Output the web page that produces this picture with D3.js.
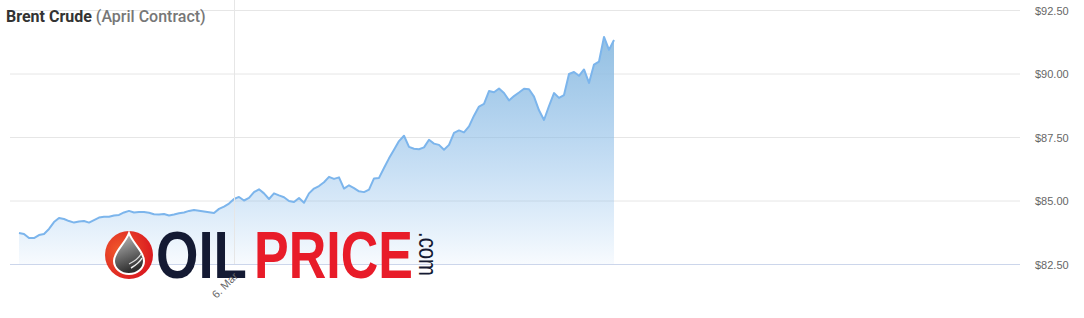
<!DOCTYPE html>
<html>
<head>
<meta charset="utf-8">
<script src="https://cdn.jsdelivr.net/npm/d3@7"></script>
<style>
  html, body { margin: 0; padding: 0; background: #fff; }
  svg { display: block; }
</style>
</head>
<body>
<svg id="chart" width="1084" height="318"></svg>
<script>
// ---------------- DATA ----------------
const titleMain = "Brent Crude";
const titleSub = "(April Contract)";
const seriesStart = "2024-03-04T05:00";   // first quote
const stepHours = 1;                      // spacing of quotes
const prices = [
  83.72, 83.68, 83.52, 83.52, 83.64, 83.68, 83.88, 84.15, 84.31, 84.27,
  84.19, 84.13, 84.17, 84.19, 84.13, 84.23, 84.33, 84.36, 84.36, 84.41,
  84.43, 84.53, 84.59, 84.53, 84.55, 84.55, 84.52, 84.46, 84.45, 84.47,
  84.41, 84.45, 84.50, 84.53, 84.59, 84.63, 84.60, 84.57, 84.54, 84.51,
  84.67, 84.76, 84.88, 85.06, 85.14, 85.00, 85.10, 85.33, 85.44, 85.28,
  85.06, 85.28, 85.20, 85.13, 84.98, 84.94, 85.10, 84.91, 85.28, 85.47,
  85.57, 85.72, 85.93, 85.85, 85.91, 85.47, 85.60, 85.49, 85.36, 85.33,
  85.43, 85.87, 85.89, 86.28, 86.66, 87.00, 87.34, 87.55, 87.11, 87.04,
  87.02, 87.09, 87.39, 87.24, 87.19, 87.00, 87.19, 87.66, 87.76, 87.68,
  87.92, 88.34, 88.70, 88.80, 89.31, 89.26, 89.41, 89.23, 88.94, 89.11,
  89.25, 89.40, 89.38, 89.09, 88.55, 88.17, 88.72, 89.23, 89.04, 89.15,
  89.98, 90.06, 89.91, 90.16, 89.63, 90.35, 90.47, 91.44, 90.93, 91.32
];
const xDomain = ["2024-03-04T03:12", "2024-03-12T13:12"];
const xTickDates = ["2024-03-06T00:00"];
const yDomain = [82.5, 92.5];
const yTicks = [82.5, 85, 87.5, 90, 92.5];
const logoWords = ["OIL", "PRICE"];
const logoSuffix = ".com";

// ---------------- LAYOUT ----------------
const plot = { left: 10, right: 1020, top: 10, bottom: 264, gridTop: 0 };
const parse = d3.timeParse("%Y-%m-%dT%H:%M");
const t0 = parse(seriesStart);
const data = prices.map((p, i) => ({ t: d3.timeHour.offset(t0, i * stepHours), p }));

const x = d3.scaleTime().domain(xDomain.map(parse)).range([plot.left, plot.right]);
const y = d3.scaleLinear().domain(yDomain).range([plot.bottom, plot.top]);

const svg = d3.select("#chart");
const defs = svg.append("defs");

// area gradient
const maxP = d3.max(prices);
const ag = defs.append("linearGradient").attr("id", "areaGrad")
  .attr("gradientUnits", "userSpaceOnUse")
  .attr("x1", 0).attr("x2", 0).attr("y1", y(maxP)).attr("y2", y(yDomain[0]));
ag.append("stop").attr("offset", 0).attr("stop-color", "#94c0e2").attr("stop-opacity", 1);
ag.append("stop").attr("offset", 1).attr("stop-color", "#7cb5ec").attr("stop-opacity", 0.06);

// y axis / horizontal grid
const yAxis = d3.axisRight(y).tickValues(yTicks)
  .tickSize(plot.right - plot.left).tickPadding(15)
  .tickFormat(d => "$" + d.toFixed(2));
const gy = svg.append("g").attr("transform", `translate(${plot.left},0)`).call(yAxis);
gy.select(".domain").remove();
gy.selectAll(".tick line").attr("stroke", d => d === yDomain[0] ? "#ccd6eb" : "#e6e6e6");
gy.selectAll(".tick text").attr("fill", "#666").attr("font-size", 11)
  .attr("font-family", "'Liberation Sans', Arial, sans-serif").attr("dy", "0.4em");

// x axis / vertical grid
const xAxis = d3.axisBottom(x).tickValues(xTickDates.map(parse))
  .tickSize(-(plot.bottom - plot.gridTop)).tickFormat(d3.timeFormat("%-d. %b"));
const gx = svg.append("g").attr("transform", `translate(0,${plot.bottom})`).call(xAxis);
gx.select(".domain").remove();
gx.selectAll(".tick line").attr("stroke", "#e6e6e6");

// area + line
const area = d3.area().x(d => x(d.t)).y0(y(yDomain[0])).y1(d => y(d.p));
const line = d3.line().x(d => x(d.t)).y(d => y(d.p));
svg.append("path").datum(data).attr("d", area).attr("fill", "url(#areaGrad)");
svg.append("path").datum(data).attr("d", line).attr("fill", "none")
  .attr("stroke", "#7cb5ec").attr("stroke-width", 2).attr("stroke-linejoin", "round");

// ---------------- LOGO (watermark) ----------------
const logo = svg.append("g");
const rg = defs.append("radialGradient").attr("id", "logoRed").attr("cx", "30%").attr("cy", "40%").attr("r", "75%");
rg.append("stop").attr("offset", 0).attr("stop-color", "#f05a2c");
rg.append("stop").attr("offset", 1).attr("stop-color", "#d9161f");
const dg = defs.append("linearGradient").attr("id", "dropGrad").attr("x1", 0).attr("y1", 0).attr("x2", 0.3).attr("y2", 1);
dg.append("stop").attr("offset", 0).attr("stop-color", "#c9c9c9");
dg.append("stop").attr("offset", 1).attr("stop-color", "#2e2e2e");
logo.append("circle").attr("cx", 129).attr("cy", 255).attr("r", 24).attr("fill", "url(#logoRed)");
logo.append("path")
  .attr("d", "M129,233 C125,244 114,251 114,261 A15,13 0 0,0 144,261 C144,251 133,244 129,233 Z")
  .attr("fill", "url(#dropGrad)").attr("stroke", "#fff").attr("stroke-width", 2);
logo.append("path").attr("d", "M131,268 C136,265 140,262 142,258").attr("stroke", "#eee").attr("stroke-width", 1.5).attr("fill", "none");
logo.append("path").attr("d", "M129,264 C135,261 139,258 141,254").attr("stroke", "#ddd").attr("stroke-width", 1.2).attr("fill", "none");

function fitWord(txt, x0, width, fill) {
  const g = logo.append("g");
  const t = g.append("text").text(txt)
    .attr("font-family", "'Liberation Sans', Arial, sans-serif").attr("font-weight", 700)
    .attr("font-size", 66).attr("fill", fill);
  const natural = t.node().getComputedTextLength();
  g.attr("transform", `translate(${x0},278) scale(${width / natural},1)`);
}
fitWord(logoWords[0], 156, 91, "#141a33");
fitWord(logoWords[1], 254, 159, "#e81c29");
{
  const g = logo.append("g");
  const t = g.append("text").text(logoSuffix)
    .attr("font-family", "'Liberation Sans', Arial, sans-serif").attr("font-size", 25).attr("fill", "#141a33");
  const natural = t.node().getComputedTextLength();
  g.attr("transform", `translate(419,232) rotate(90) scale(${44 / natural},1)`);
}

// x tick label on top
gx.selectAll(".tick text").attr("fill", "#666").attr("font-size", 11)
  .attr("font-family", "'Liberation Sans', Arial, sans-serif")
  .attr("text-anchor", "end").attr("y", 0).attr("dy", 0)
  .attr("transform", "translate(4,13) rotate(-45)");
gx.raise();

// ---------------- TITLE ----------------
const title = svg.append("text").attr("x", 6).attr("y", 22)
  .attr("font-family", "Roboto, sans-serif").attr("font-size", 16).attr("font-weight", 700);
title.append("tspan").attr("fill", "#333").text(titleMain);
title.append("tspan").attr("fill", "#777").attr("font-weight", 500).text(" " + titleSub);
</script>
</body>
</html>
